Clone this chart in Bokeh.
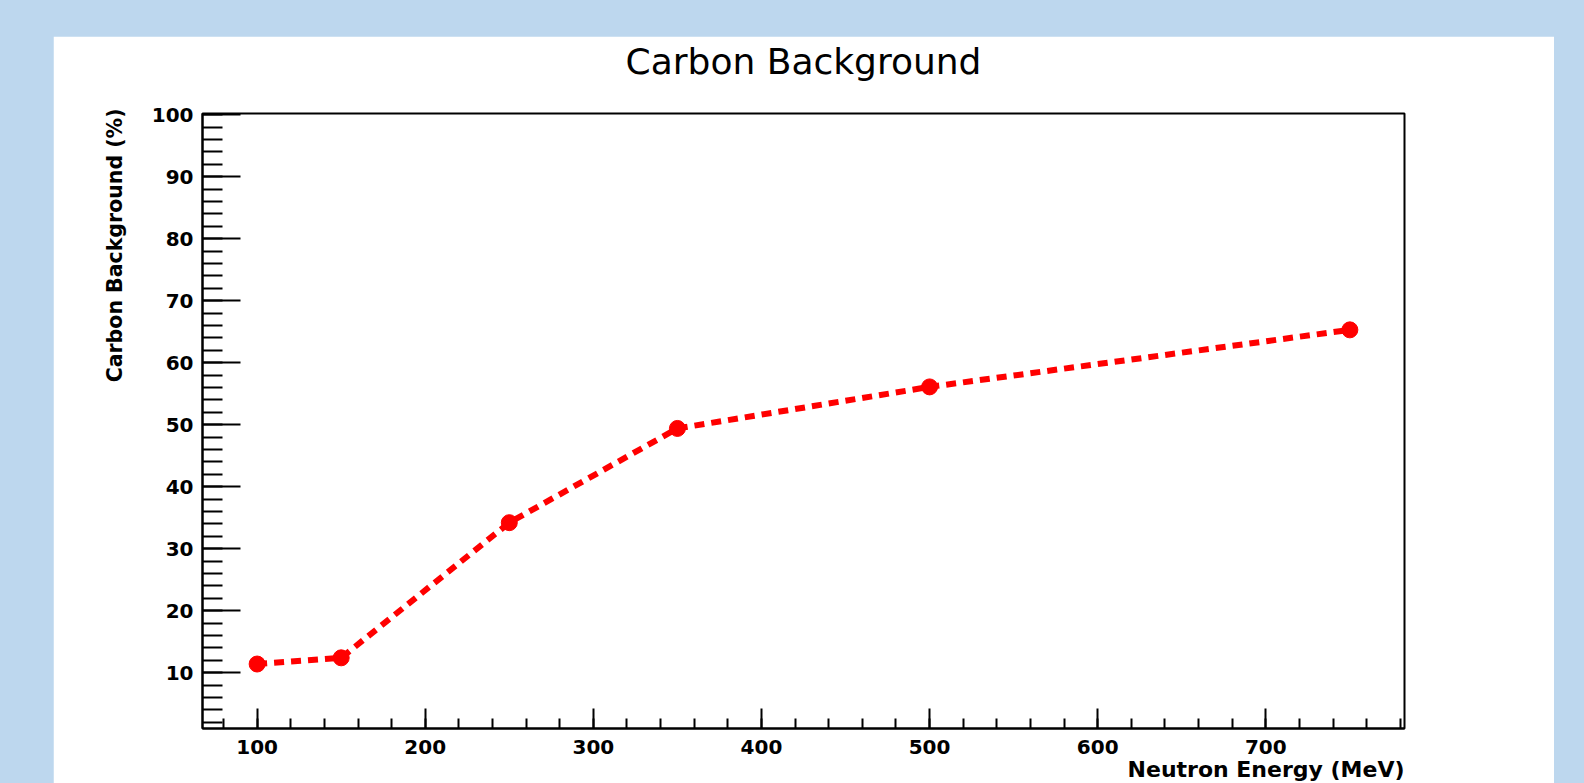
from bokeh.plotting import figure
from bokeh.models import Range1d, SingleIntervalTicker, Title
from bokeh.layouts import column
from bokeh.embed import file_html
from bokeh.resources import INLINE

# ---- data ----
energy = [100, 150, 250, 350, 500, 750]
carbon_bg = [11.4, 12.4, 34.2, 49.4, 56.1, 65.3]

title_text = "Carbon Background"
x_title = "Neutron Energy (MeV)"
y_title = "Carbon Background (%)"

X0, X1 = 67.5, 782.5
Y0, Y1 = 1.0, 100.2

FONT = "DejaVu Sans"

p = figure(width=1501, height=747, output_backend="svg", toolbar_location=None,
           title=None,
           x_range=Range1d(X0, X1), y_range=Range1d(Y0, Y1),
           min_border_left=149, min_border_right=150,
           min_border_top=77, min_border_bottom=55,
           border_fill_color="white", background_fill_color="white",
           outline_line_color="black", outline_line_width=2,
           margin=(36, 30, 0, 53))
p.grid.visible = False

# x axis
xa = p.xaxis[0]
xa.ticker = SingleIntervalTicker(interval=100, num_minor_ticks=5)
xa.major_tick_in = 20
xa.major_tick_out = 0
xa.minor_tick_in = 10
xa.minor_tick_out = 0
xa.axis_line_color = "black"
xa.axis_line_width = 2
xa.major_tick_line_color = "black"
xa.major_tick_line_width = 2
xa.minor_tick_line_color = "black"
xa.minor_tick_line_width = 2
xa.major_label_text_font = FONT
xa.major_label_text_font_style = "bold"
xa.major_label_text_font_size = "20px"
xa.major_label_text_color = "black"
xa.major_label_standoff = 11

# y axis
ya = p.yaxis[0]
ya.ticker = SingleIntervalTicker(interval=10, num_minor_ticks=5)
ya.major_tick_in = 38
ya.major_tick_out = 0
ya.minor_tick_in = 20
ya.minor_tick_out = 0
ya.axis_line_color = "black"
ya.axis_line_width = 2
ya.major_tick_line_color = "black"
ya.major_tick_line_width = 2
ya.minor_tick_line_color = "black"
ya.minor_tick_line_width = 2
ya.major_label_text_font = FONT
ya.major_label_text_font_style = "bold"
ya.major_label_text_font_size = "20px"
ya.major_label_text_color = "black"
ya.major_label_standoff = 9

# main title (a thin spacer panel sits between it and the frame)
p.add_layout(Title(text=" ", text_font_size="1px", standoff=33), "above")
p.add_layout(Title(text=title_text, align="center", text_font=FONT,
                   text_font_style="normal", text_font_size="36px",
                   text_color="black", standoff=-8), "above")

# axis titles (ROOT style: aligned to the far end of each axis)
p.add_layout(Title(text=x_title, align="right", text_font=FONT,
                   text_font_style="bold", text_font_size="22px",
                   text_color="black", standoff=-4), "below")
p.add_layout(Title(text=y_title, align="right", text_font=FONT,
                   text_font_style="bold", text_font_size="20.5px",
                   text_color="black", standoff=43, offset=-5), "left")

# data
p.line(energy, carbon_bg, line_color="#ff0000", line_width=6, line_dash="10 7")
p.scatter(energy, carbon_bg, size=16, color="#ff0000")

layout = column(p, styles={"background-color": "#BDD7EE"})

open("out.html", "w").write(file_html(layout, INLINE))
